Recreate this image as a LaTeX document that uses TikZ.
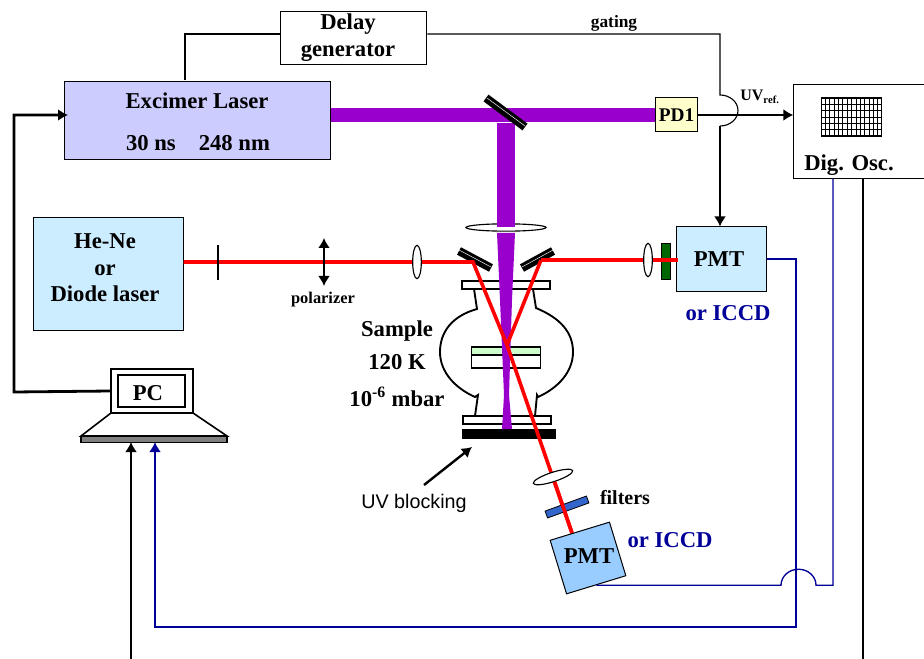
\documentclass[tikz,border=0pt]{standalone}
\usepackage{fontspec}
\setmainfont{Liberation Serif}
\newfontfamily\uvfont{Liberation Sans}
\usetikzlibrary{positioning}
\usetikzlibrary{arrows.meta}
\usetikzlibrary{shapes.geometric}
\definecolor{uvpurple}{HTML}{9900CC}
\definecolor{boxblue}{HTML}{CCECFF}
\definecolor{detblue}{HTML}{99CCFF}
\definecolor{laserlav}{HTML}{CCCCFF}
\definecolor{diodeyel}{HTML}{FFFFCC}
\definecolor{wireblue}{HTML}{000099}
\definecolor{filtblue}{HTML}{3366CC}
\definecolor{filtgreen}{HTML}{006600}
\definecolor{samplegreen}{HTML}{CCFFCC}
\newcommand{\bigtxt}{\fontsize{17}{20}\selectfont\bfseries}
\newcommand{\midtxt}{\fontsize{14.5}{17}\selectfont\bfseries}

\begin{document}
\begin{tikzpicture}[>={Latex[length=7.5pt,width=9pt]},x=0.75pt,y=-0.75pt]
    \tikzset{block/.style= {draw, rectangle, align=center, inner sep=0pt, line width=0.75pt, font=\bigtxt},
        lensv/.style= {draw, fill=white, ellipse, minimum width=6.5pt, minimum height=25pt, inner sep=0pt, line width=0.85pt},
        lensh/.style= {draw, fill=white, ellipse, minimum width=31pt, minimum height=7pt, inner sep=0pt, line width=0.85pt},
        mirror/.style= {line width=6.3pt, black},
        mirrorline/.style= {white, line width=0.35pt},
        flange/.style= {draw, fill=white, line width=1.2pt},
        redbeam/.style= {draw, red, line width=2.7pt},
        thinwire/.style= {draw, line width=0.85pt},
        mainwire/.style= {draw, line width=2.1pt},
        bluewire/.style= {draw, wireblue, line width=1.9pt},
        label/.style= {font=\bigtxt, inner sep=0pt},
    }
    \useasboundingbox (0,0) rectangle (924,659);

    % boxes
    \node [block, fill=white, minimum width=110pt, minimum height=40pt] (delay) at (353.5,38) {};
    \node [label, align=center] (delaytxt) at (348,37.5) {Delay\\generator};
    \node [block, fill=laserlav, minimum width=200pt, minimum height=59pt] (laser) at (197.5,120.5) {};
    \node [label] (lasertop) at (197,101) {Excimer Laser};
    \node [label] (laserbot) at (198,143) {30 ns\hspace{13pt} 248 nm};
    \node [block, fill=boxblue, minimum width=112.5pt, minimum height=84pt] (diode) at (108,274) {};
    \node [label, align=center] (diodetxt) at (105,268) {He-Ne\\or\\Diode laser};
    \node [block, fill=diodeyel, minimum width=32pt, minimum height=25.5pt, font=\midtxt] (pd) at (676.5,115) {PD1};
    \node [block, fill=boxblue, minimum width=68pt, minimum height=48pt] (pmt) at (721.5,259) {};
    \node [label] (pmttxt) at (719,259) {PMT};
    \node [block, fill=white, minimum width=100pt, minimum height=70.5pt] (osc) at (860.5,132) {};
    \node [label, text=wireblue] (icone) at (728,313) {or ICCD};
    \node [label] (osctxt) at (849,165) {Dig. Osc.};

    % oscilloscope screen
    \node [draw, rectangle, line width=0.9pt, inner sep=0pt, minimum width=45.5pt, minimum height=28.5pt] (screen) at (851.5,117) {};
    \foreach \i in {1,...,13} \draw[line width=0.45pt] (821+4.35*\i,98) -- (821+4.35*\i,136);
    \foreach \j in {1,...,5} \draw[line width=0.45pt] (821,98+6.3*\j) -- (882,98+6.3*\j);

    % UV beam
    \coordinate (split) at (506,115);
    \node [lensh, minimum width=60pt, minimum height=5.5pt] (lensuv) at (506,227.5) {};
    \path[draw, uvpurple, line width=11.2pt] (laser.east |- pd.west) -- (pd.west);
    \path[fill, uvpurple] (497,123) rectangle (515,227);

    % chamber
    \draw[line width=1.4pt] (474,289) -- (477,309) .. controls (452,316) and (440,332) .. (440,352)
        .. controls (440,372) and (455,388) .. (475,397) -- (478,395) -- (475,416);
    \draw[line width=1.4pt] (533,289) -- (536,308) .. controls (560,318) and (573,332) .. (573,352)
        .. controls (573,372) and (558,388) .. (538,397) -- (537,395) -- (535,416);
    \node [flange, minimum width=66pt, minimum height=6pt, inner sep=0pt] (flangetop) at (506,285) {};
    \node [flange, minimum width=66pt, minimum height=6pt, inner sep=0pt] (flangebot) at (507,420) {};
    \node [draw, fill=samplegreen, line width=1pt, minimum width=52pt, minimum height=6pt, inner sep=0pt] (film) at (506,351) {};
    \node [draw, fill=white, line width=1pt, minimum width=52pt, minimum height=9.5pt, inner sep=0pt] (substrate) at (506,361.5) {};
    \node [fill=black, minimum width=70.5pt, minimum height=7.5pt, inner sep=0pt] (stopper) at (509,434) {};

    % focused UV
    \path[fill, uvpurple] (497,233) -- (515,233) -- (512,300) -- (509,395) -- (512,429)
        -- (502,429) -- (504,395) -- (500,300) -- cycle;

    % mirrors
    \draw[mirror] (486,98) -- (525,127);
    \draw[mirrorline] (487,98) -- (525,126);
    \draw[mirror] (459,251) -- (491,268);
    \draw[mirrorline] (459,250) -- (491,267);
    \draw[mirror] (522,268) -- (553,251);
    \draw[mirrorline] (522,267) -- (553,250);

    % red beams
    \coordinate (hitl) at (473,262);
    \coordinate (hitr) at (541,260);
    \coordinate (spot) at (507,345);
    \coordinate (redend) at (572,533);
    \path[redbeam] (diode.east |- hitl) -- (hitl) -- (spot) -- (redend);
    \path[redbeam] (hitr) -- (spot);
    \node [draw, fill=filtgreen, line width=0.6pt, minimum width=7pt, minimum height=27pt, inner sep=0pt] (filtg) at (666,261) {};
    \path[redbeam] (hitr) -- (678,260);
    \node [lensv] (lensa) at (417,262) {};
    \node [lensv] (lensb) at (648,260) {};
    \node [lensh, rotate=18] (lensc) at (553,477) {};

    % polarizer
    \coordinate (poltop) at (324,238);
    \coordinate (polbot) at (324,286);
    \coordinate (tickt) at (218,245);
    \coordinate (tickb) at (218,280);
    \path[mainwire] (tickt) -- (tickb);
    \path[draw, <->, line width=1.6pt] (poltop) -- (polbot);

    % second detector
    \node [draw, fill=filtblue, rotate=20, line width=0.6pt, minimum width=33pt, minimum height=5.5pt, inner sep=0pt] (filtb) at (567,507) {};
    \path[draw, red, line width=2.7pt] (lensc) -- (redend);
    \node [draw, fill=detblue, rotate=17, line width=0.75pt, minimum width=46.5pt, minimum height=42pt, inner sep=0pt] (pmtb) at (588,558) {};
    \node [label] (pmtbtxt) at (589,556) {PMT};
    \node [label, text=wireblue] (icctwo) at (670,540) {or ICCD};

    % pc
    \node [draw, fill=white, line width=1.1pt, minimum width=61.5pt, minimum height=33pt, inner sep=0pt] (pcscreen) at (152,391) {};
    \node [draw, line width=1.5pt, minimum width=50pt, minimum height=24pt, inner sep=0pt] (pc) at (151.5,391) {};
    \node [label] (pctxt) at (148,393) {PC};
    \draw[fill=white, line width=1.2pt] (111,413) -- (193,413) -- (227,436) -- (81,436) -- cycle;
    \node [draw, fill=gray, line width=0.9pt, minimum width=109.5pt, minimum height=4pt, inner sep=0pt] (pcbase) at (154,439.5) {};

    % wires
    \coordinate (hopa) at (720,95);
    \coordinate (hopb) at (720,126);
    \coordinate (hopc) at (781,586);
    \coordinate (pcleft) at (14,392);
    \coordinate (botblack) at (131,659);
    \coordinate (botblackr) at (863,659);
    \path[thinwire] (delay.west |- 0,34) -| (185,80.5);
    \path[thinwire] (delay.east |- 0,34) -| (hopa) arc[start angle=-90, end angle=90, x radius=18, y radius=15.5];
    \path[mainwire, ->] (hopb) -- (hopb |- pmt.north);
    \path[mainwire, ->] (pd.east) -- (osc.west |- pd.east);
    \path[mainwire, ->] (pcscreen.west) -- (pcleft) |- (68,115);
    \path[mainwire, ->] (botblack) -- (131,442);
    \path[mainwire] (botblackr) -- (863,179);
    \path[bluewire, ->] (pmt.east) -| (796,627) -| (155,442);
    \path[draw, wireblue, line width=1pt] (pmtb.south) -- (pmtb.south -| hopc) arc[start angle=180, end angle=360, x radius=17.5, y radius=16] -| (833,179);

    % labels
    \node [font=\fontsize{13}{15}\selectfont\bfseries, inner sep=0pt] (gating) at (614,23) {gating};
    \node [font=\fontsize{12}{14}\selectfont\bfseries, inner sep=0pt] (uvref) at (760,97) {UV\textsubscript{ref.}};
    \node [font=\fontsize{12.3}{14}\selectfont\bfseries, inner sep=0pt] (pol) at (323,300) {polarizer};
    \node [label] (sample) at (397,331) {Sample};
    \node [label] (temp) at (397,362) {120 K};
    \node [label] (press) at (397,397) {10\textsuperscript{-6} mbar};
    \node [font=\fontsize{15}{17}\selectfont\bfseries, inner sep=0pt] (filters) at (625,498) {filters};
    \node [font=\fontsize{14.8}{17}\selectfont\uvfont, inner sep=0pt] (uvblock) at (414,503) {UV blocking};
    \coordinate (blockfrom) at (424,485);
    \coordinate (blockto) at (472,447);
    \path[draw, ->, line width=1.8pt] (blockfrom) -- (blockto);
\end{tikzpicture}
\end{document}
